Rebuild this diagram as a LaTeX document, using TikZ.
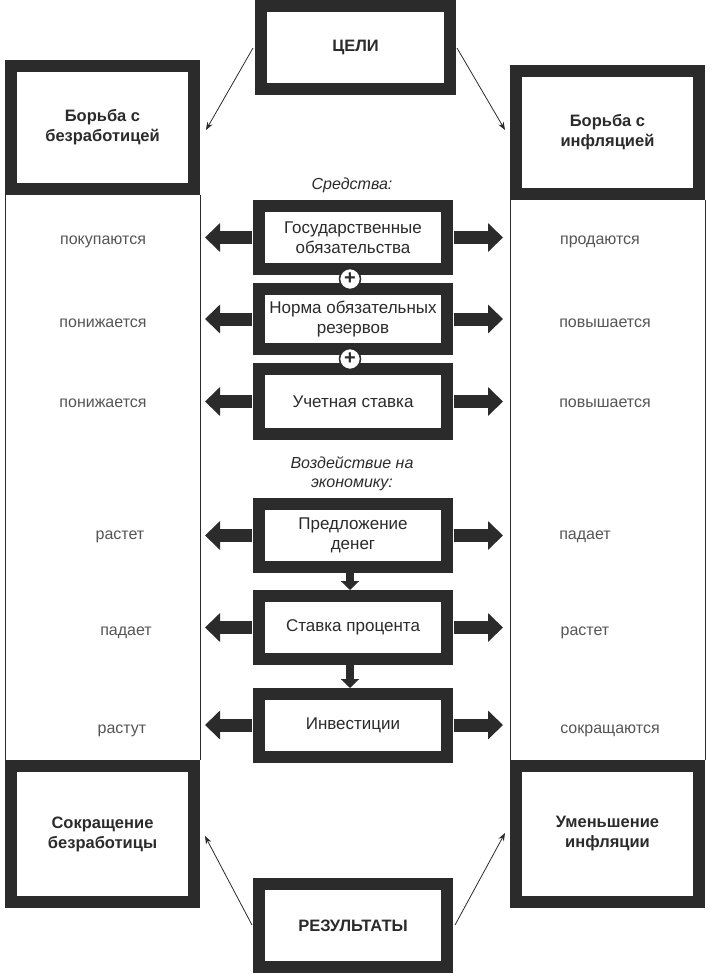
\documentclass[tikz,border=0pt]{standalone}
\usepackage{fontspec}
\setmainfont{Liberation Sans}
\usetikzlibrary{arrows.meta}
\definecolor{ink}{HTML}{2B2B2B}
\begin{document}
\begin{tikzpicture}[x=1pt,y=-1pt,
 box/.style={draw=ink,line width=12pt,fill=white,inner sep=0pt,align=center,font=\fontsize{17}{20}\selectfont\color{ink}},
 bbox/.style={box,font=\bfseries\fontsize{16.5}{20}\selectfont\color{ink}},
 lbl/.style={font=\fontsize{16}{18}\selectfont,text=ink!80},
 big/.style={draw=ink,line width=13pt,-{Triangle[length=15pt,width=28pt]}},
 thin/.style={draw=ink,line width=0.8pt,-{Stealth[length=8pt]}}]
\useasboundingbox (0,0) rectangle (720,975);
\draw[ink,line width=0.7pt] (5,195)--(5,760) (200,195)--(200,760) (510,200)--(510,760) (705,200)--(705,760);
\node[bbox,minimum width=189pt,minimum height=83pt] (goal) at (355.5,47.5) {ЦЕЛИ};
\node[bbox,minimum width=183pt,minimum height=123pt] (lt) at (102.5,127.5) {Борьба с\\безработицей};
\node[bbox,minimum width=183pt,minimum height=123pt] (rt) at (607.5,132.5) {Борьба с\\инфляцией};
\node[box,minimum width=188pt,minimum height=63pt] (g) at (353,237.5) {Государственные\\обязательства};
\node[box,minimum width=188pt,minimum height=60pt] (n) at (353,319) {Норма обязательных\\резервов};
\node[box,minimum width=188pt,minimum height=65pt] (u) at (353,401.5) {Учетная ставка};
\node[box,minimum width=188pt,minimum height=63pt] (p) at (353,535.5) {Предложение\\денег};
\node[box,minimum width=188pt,minimum height=63pt] (s) at (353,627.5) {Ставка процента};
\node[box,minimum width=188pt,minimum height=63pt] (i) at (353,725) {Инвестиции};
\node[bbox,minimum width=183pt,minimum height=136pt] (lb) at (102.5,834) {Сокращение\\безработицы};
\node[bbox,minimum width=183pt,minimum height=136pt] (rb) at (607.5,834) {Уменьшение\\инфляции};
\node[bbox,minimum width=188pt,minimum height=83pt] (res) at (353,925.5) {РЕЗУЛЬТАТЫ};
\node[font=\itshape\fontsize{16}{18}\selectfont,text=ink] (sr) at (352,185) {Средства:};
\node[font=\itshape\fontsize{16}{19}\selectfont,text=ink,align=center] (vz) at (352,474) {Воздействие на\\экономику:};
\foreach \n/\y in {g/237.5,n/319,u/401.5,p/535.5,s/627.5,i/725}{
 \coordinate (L\n) at (205,\y); \coordinate (R\n) at (503,\y);
 \coordinate (l\n) at (252,\y); \coordinate (r\n) at (454,\y);
 \draw[big] (l\n) -- (L\n);
 \draw[big] (r\n) -- (R\n);}
\foreach \nm/\y in {p1/279,p2/359}{
 \node[circle,fill=white,draw=ink,line width=1.5pt,minimum size=21pt,inner sep=0pt,font=\bfseries\fontsize{20}{20}\selectfont,text=ink] (\nm) at (350,\y) {+};}
\coordinate (d1s) at (350,572); \coordinate (d1) at (350,590);
\coordinate (d2s) at (350,664); \coordinate (d2) at (350,688);
\draw[draw=ink,line width=8pt,-{Triangle[length=9pt,width=18pt]}] (d1s) -- (d1);
\draw[draw=ink,line width=8pt,-{Triangle[length=9pt,width=18pt]}] (d2s) -- (d2);
\node[lbl] (a1) at (103,242) {покупаются};
\node[lbl] (a2) at (103,323) {понижается};
\node[lbl] (a3) at (103,403) {понижается};
\node[lbl] (a4) at (120,537) {растет};
\node[lbl] (a5) at (126,633) {падает};
\node[lbl] (a6) at (122,731) {растут};
\node[lbl] (b1) at (600,242) {продаются};
\node[lbl] (b2) at (605,323) {повышается};
\node[lbl] (b3) at (605,403) {повышается};
\node[lbl] (b4) at (585,537) {падает};
\node[lbl] (b5) at (585,633) {растет};
\node[lbl] (b6) at (610,731) {сокращаются};
\coordinate (g1) at (253,48); \coordinate (g2) at (457,48);
\coordinate (r1) at (252,925); \coordinate (r2) at (455,925);
\coordinate (lte) at (206,130); \coordinate (rte) at (505,130);
\coordinate (lbe) at (205,836); \coordinate (rbe) at (505,833);
\draw[thin] (g1) -- (lte);
\draw[thin] (g2) -- (rte);
\draw[thin] (r1) -- (lbe);
\draw[thin] (r2) -- (rbe);
\end{tikzpicture}
\end{document}
